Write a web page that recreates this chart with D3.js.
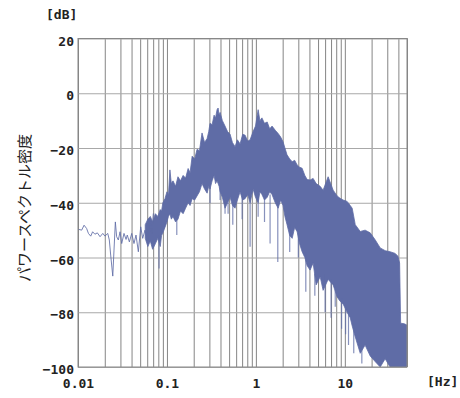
<html>
<head>
<meta charset="utf-8">
<style>
  body { margin: 0; background: #fff; }
  .tick text { font-family: "DejaVu Sans Mono", monospace; font-weight: bold; font-size: 13px; fill: #222; }
</style>
</head>
<body>
<svg id="chart" width="460" height="398"></svg>

<script src="https://d3js.org/d3.v7.min.js"></script>
<script>
// axis ticks
var xTickValues = [0.01, 0.1, 1, 10];
var xTickLabels = ["0.01", "0.1", "1", "10"];
var yTickValues = [20, 0, -20, -40, -60, -80, -100];

// low frequency part : single trace (Hz, dB)
var lineFreq = [0.0101, 0.0110, 0.0117, 0.0125, 0.0131, 0.0139, 0.0146, 0.0155, 0.0165, 0.0177,
  0.0190, 0.0201, 0.0216, 0.0225, 0.0233, 0.0246, 0.0254, 0.0263, 0.0272, 0.0284,
  0.0297, 0.0310, 0.0329, 0.0347, 0.0358, 0.0378, 0.0402, 0.0426, 0.0449, 0.0477,
  0.0507, 0.0534, 0.0567, 0.0602, 0.0634, 0.0675, 0.0703];
var lineDb = [-49.7, -50.0, -48.2, -49.4, -51.2, -52.2, -50.6, -51.5, -51.0, -52.4,
  -51.2, -52.2, -51.2, -53.6, -59.1, -66.8, -57.3, -47.0, -52.4, -53.6,
  -50.6, -54.9, -51.2, -53.4, -51.8, -54.3, -51.2, -54.9, -51.8, -57.9,
  -48.8, -53.0, -50.0, -54.3, -46.3, -51.2, -43.9];

// dense part : upper and lower envelope (Hz, dB)
var bandFreq = [0.057, 0.061, 0.065, 0.069, 0.074, 0.079, 0.084, 0.087, 0.090, 0.095,
  0.100, 0.104, 0.108, 0.112, 0.117, 0.125, 0.133, 0.142, 0.152, 0.162,
  0.173, 0.182, 0.192, 0.205, 0.218, 0.232, 0.248, 0.265, 0.283, 0.295,
  0.305, 0.322, 0.339, 0.352, 0.366, 0.376, 0.386, 0.396, 0.420, 0.450,
  0.480, 0.513, 0.545, 0.583, 0.620, 0.664, 0.710, 0.756, 0.81, 0.861,
  0.930, 0.99, 1.06, 1.11, 1.17, 1.25, 1.34, 1.43, 1.52, 1.65,
  1.78, 1.90, 2.02, 2.12, 2.24, 2.40, 2.56, 2.73, 2.91, 3.10,
  3.31, 3.55, 3.77, 4.07, 4.40, 4.76, 5.28, 5.70, 6.49, 7.39,
  8.19, 8.85, 9.57, 10.6, 11.5, 12.1, 13.1, 14.9, 16.9, 19.3,
  21.9, 25.0, 28.4, 32.3, 36.8, 39.5, 41.3, 42.4, 46.5, 50];
var bandHigh = [-48, -46, -45, -47, -44, -45, -42.5, -43, -40, -38.5,
  -36, -37, -28, -33, -32, -34, -30.5, -32, -30, -31,
  -27.5, -29, -23, -24, -20.5, -21, -14.5, -18, -16.5, -14,
  -11, -11.5, -8, -9, -6, -5.4, -8, -7, -10, -12,
  -14, -15, -18, -19.5, -17, -18.5, -15, -15.3, -17.5, -17,
  -14, -12, -6, -10, -9, -11, -10.5, -13, -12, -13.5,
  -14.7, -16, -17.7, -20, -22.5, -24, -25, -24.5, -26.2, -27,
  -27.4, -30, -31.5, -31.7, -31.1, -33, -34, -35.4, -30.5, -35.4,
  -37.5, -38.4, -39, -39.5, -41, -42, -48, -50.5, -50, -51,
  -53.5, -56.5, -57.5, -57.9, -58.5, -59.5, -62, -84, -84.2, -84.7];
var bandLow = [-53, -56, -54, -57, -55, -53, -56, -52, -51, -49,
  -47, -45, -44, -46, -45, -47, -46, -43, -44, -42,
  -40, -41, -38.5, -39, -37.5, -36, -33, -35, -36.5, -34,
  -35, -32, -30, -33, -32, -33, -34, -36, -38, -42,
  -40, -38, -41, -42, -39, -36, -39, -38.5, -37, -40,
  -35, -38, -40, -36, -37, -39, -38, -36, -37, -40,
  -42, -39, -41, -45, -48, -52, -53, -49, -50.6, -55,
  -57.9, -60, -63, -64.6, -62, -70, -67, -72, -68, -70,
  -74.4, -76, -77, -80, -82, -85, -89, -95, -92, -96,
  -98, -100, -97, -100, -102, -102, -102, -102, -102, -102];

// downward spikes (Hz, from dB, to dB)
var dipFreq = [0.0815, 0.129, 0.305, 0.396, 0.450, 0.487, 0.55, 0.70, 0.861, 1.06,
  1.25, 1.444, 1.763, 2.4, 3.0, 3.641, 4.6, 6.0, 7.0, 7.8, 9.2, 10.2, 11.0, 12.6, 15.53];
var dipTop = [-52, -44, -34, -34, -40, -38, -40, -37, -38, -38,
  -37, -37, -40, -48, -50, -58, -66, -66, -68, -72, -75, -78, -80, -84, -92];
var dipBottom = [-64, -51.8, -40.2, -39, -44, -44, -48, -46, -56.1, -45.1,
  -47, -54.9, -61.6, -58, -60, -72.5, -74, -80, -82, -78, -86, -88, -92, -95, -98.7];

var traceColor = "#5f6ca6";
var gridColor = "#858585";

var svg = d3.select("#chart");
var plotLeft = 78, plotRight = 407, plotTop = 38.5, plotBottom = 367;

var x = d3.scaleLog().domain([0.01, 50]).range([plotLeft, plotRight]);
var y = d3.scaleLinear().domain([-100, 20]).range([plotBottom, plotTop]);

// grid lines
var minor = [];
[0.01, 0.1, 1, 10].forEach(function(dec) {
  for (var k = 1; k <= 9; k++) {
    var v = +(dec * k).toPrecision(3);
    if (v <= 50) minor.push(v);
  }
});
minor.push(50);

svg.append("g")
  .attr("transform", "translate(0," + plotBottom + ")")
  .call(d3.axisBottom(x).tickValues(minor).tickSize(-(plotBottom - plotTop)).tickFormat(""))
  .call(function(g) {
    g.select(".domain").remove();
    g.selectAll("line").attr("stroke", gridColor);
  });

svg.append("g")
  .attr("transform", "translate(" + plotLeft + ",0)")
  .call(d3.axisLeft(y).tickValues(yTickValues).tickSize(-(plotRight - plotLeft)).tickFormat(""))
  .call(function(g) {
    g.select(".domain").remove();
    g.selectAll("line").attr("stroke", "#a8a8a8");
  });

// data
svg.append("clipPath").attr("id", "clip")
  .append("rect").attr("x", plotLeft).attr("y", plotTop)
  .attr("width", plotRight - plotLeft).attr("height", plotBottom - plotTop);

var plot = svg.append("g").attr("clip-path", "url(#clip)");

var band = bandFreq.map(function(f, i) { return [f, bandHigh[i], bandLow[i]]; });
plot.append("path")
  .datum(band)
  .attr("fill", traceColor)
  .attr("stroke", traceColor)
  .attr("stroke-width", 0.8)
  .attr("d", d3.area()
    .x(function(d) { return x(d[0]); })
    .y0(function(d) { return y(d[2]); })
    .y1(function(d) { return y(d[1]); }));

var trace = lineFreq.map(function(f, i) { return [f, lineDb[i]]; });
plot.append("path")
  .datum(trace)
  .attr("fill", "none")
  .attr("stroke", traceColor)
  .attr("stroke-width", 1)
  .attr("stroke-opacity", 0.85)
  .attr("d", d3.line().x(function(d) { return x(d[0]); }).y(function(d) { return y(d[1]); }));

plot.selectAll(".dip")
  .data(dipFreq)
  .enter().append("line")
  .attr("x1", function(d) { return x(d); })
  .attr("x2", function(d) { return x(d); })
  .attr("y1", function(d, i) { return y(dipTop[i]); })
  .attr("y2", function(d, i) { return y(dipBottom[i]); })
  .attr("stroke", traceColor)
  .attr("stroke-width", 1.2)
  .attr("stroke-opacity", 0.75);

// frame
svg.append("rect")
  .attr("x", plotLeft).attr("y", plotTop)
  .attr("width", plotRight - plotLeft).attr("height", plotBottom - plotTop)
  .attr("fill", "none").attr("stroke", "#888");

// axes labels
svg.append("g")
  .attr("transform", "translate(0," + plotBottom + ")")
  .call(d3.axisBottom(x).tickValues(xTickValues).tickSize(0).tickPadding(12)
    .tickFormat(function(d, i) { return xTickLabels[i]; }))
  .call(function(g) { g.select(".domain").remove(); });

svg.append("g")
  .attr("transform", "translate(" + plotLeft + ",0)")
  .call(d3.axisLeft(y).tickValues(yTickValues).tickSize(0).tickPadding(4))
  .call(function(g) {
    g.select(".domain").remove();
    g.selectAll("text").attr("dy", "0.5em");
  });

svg.append("text")
  .attr("x", 46).attr("y", 19)
  .style("font-family", "DejaVu Sans Mono, monospace").style("font-weight", "bold").style("font-size", "13px")
  .attr("fill", "#222")
  .text("[dB]");

svg.append("text")
  .attr("x", 427).attr("y", 386)
  .style("font-family", "DejaVu Sans Mono, monospace").style("font-weight", "bold").style("font-size", "13px")
  .attr("fill", "#222")
  .text("[Hz]");

svg.append("text")
  .attr("transform", "translate(23,208) rotate(-90)")
  .attr("text-anchor", "middle")
  .attr("dominant-baseline", "central")
  .style("font-family", "Noto Sans CJK JP, sans-serif").style("font-size", "15px")
  .attr("fill", "#222")
  .text("パワースペクトル密度");
</script>
</body>
</html>
